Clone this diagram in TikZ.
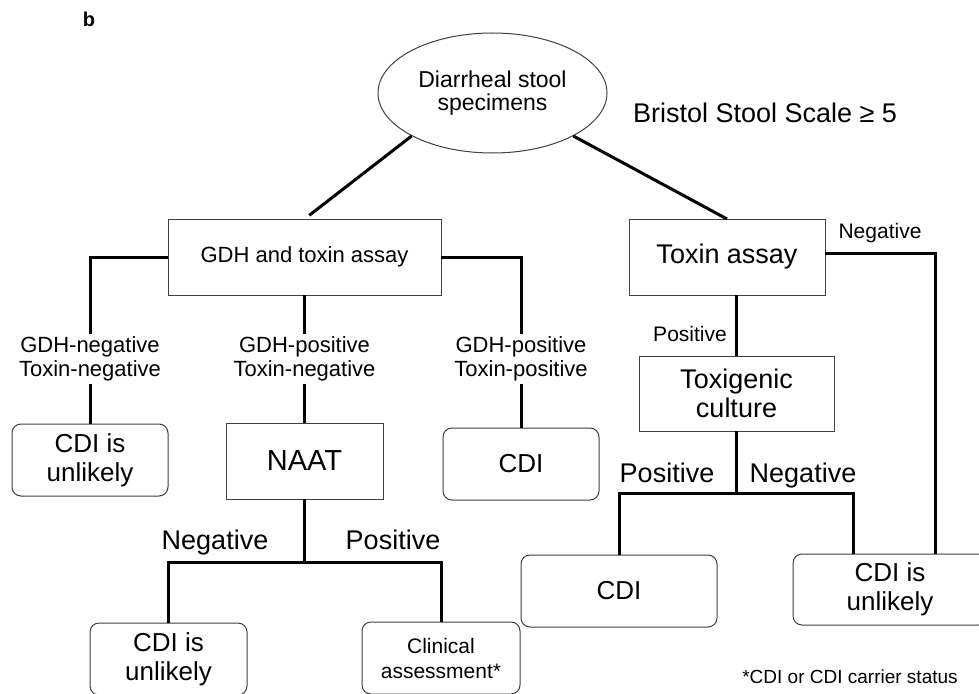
\documentclass[tikz,border=0pt]{standalone}
\usepackage{fontspec}
\setmainfont{Liberation Sans}
\usepackage{tikz}
\usetikzlibrary{calc,positioning,shapes.geometric}

\begin{document}
\begin{tikzpicture}[x=1pt,y=-1pt]
  % requires: \usetikzlibrary{calc,positioning,shapes.geometric}
  \tikzset{
    testBox/.style={draw=black!75, line width=1pt, inner sep=2pt, outer sep=0pt, align=center},
    outcomeBox/.style={draw=black!75, line width=1pt, rounded corners=9pt, inner sep=2pt, outer sep=0pt, align=center, minimum height=72pt, font=\fontsize{26}{29}\selectfont},
    branchLabel/.style={inner xsep=0pt, inner ysep=3pt, align=center, font=\fontsize{22}{24}\selectfont},
    splitLabel/.style={inner sep=0pt, anchor=base, font=\fontsize{27}{29}\selectfont},
    flowLine/.style={line width=3pt}
  }

  % --- Page frame (image is cut at the bottom) ---
  \clip (0,0) rectangle (979,693);
  \fill[white] (0,0) rectangle (979,693);

  \node[inner sep=0pt, font=\fontsize{20}{21}\selectfont\bfseries] (panel-b) at (89,19) {b};

  % --- Start ---
  \node[ellipse, draw=black!75, line width=1pt, inner sep=0pt, minimum width=229pt, minimum height=120pt, align=center, font=\fontsize{23}{23}\selectfont] (stool) at (492.5,93) {Diarrheal stool\\specimens};
  \node[inner sep=0pt, font=\fontsize{27}{29}\selectfont] (bristol) at (765,113) {Bristol Stool Scale ≥ 5};

  % --- Two strategies ---
  \node[testBox, minimum width=273pt, minimum height=76pt, font=\fontsize{22}{24}\selectfont] (gdh-box) at (304.5,257) {GDH and toxin assay};
  \node[testBox, minimum width=196pt, minimum height=76pt, font=\fontsize{27}{29}\selectfont] (toxin-box) at (727,257) {Toxin assay};

  \draw[flowLine, shorten >=6pt] (stool.208) -- (gdh-box.north);
  \draw[flowLine] (stool.-28) -- (toxin-box.north);

  % --- GDH and toxin assay results ---
  \node[branchLabel] (lbl-gn) at (90,359) {GDH-negative\\Toxin-negative};
  \node[branchLabel] (lbl-gptn) at (304.5,359) {GDH-positive\\Toxin-negative};
  \node[branchLabel] (lbl-gptp) at (521,359) {GDH-positive\\Toxin-positive};

  \node[outcomeBox, minimum width=156pt] (out-1) at (90,460) {CDI is\\unlikely};
  \node[testBox, minimum width=157pt, minimum height=76pt, font=\fontsize{29}{31}\selectfont] (naat-box) at (304.5,461) {NAAT};
  \node[outcomeBox, minimum width=156pt] (out-2) at (521,464) {CDI};

  \draw[flowLine] (gdh-box.west) -| (lbl-gn.north);
  \draw[flowLine] (lbl-gn.south) -- (out-1.north);
  \draw[flowLine] (gdh-box.south) -- (lbl-gptn.north);
  \draw[flowLine] (lbl-gptn.south) -- (naat-box.north);
  \draw[flowLine] (gdh-box.east) -| (lbl-gptp.north);
  \draw[flowLine] (lbl-gptp.south) -- (out-2.north);

  % --- NAAT results ---
  \node[outcomeBox, minimum width=157pt] (out-3) at (168.5,659) {CDI is\\unlikely};
  \node[outcomeBox, minimum width=158pt, font=\fontsize{21}{25}\selectfont] (out-4) at (441,658) {Clinical\\assessment*};
  \coordinate (naat-split) at ($(naat-box.south)+(0,63)$);

  \draw[flowLine] (naat-box.south) -- (naat-split);
  \draw[flowLine] (naat-split) -| (out-3.north);
  \draw[flowLine] (naat-split) -| (out-4.north);
  \node[splitLabel] (naat-neg) at (215,549) {Negative};
  \node[splitLabel] (naat-pos) at (393,549) {Positive};

  % --- Toxin assay results ---
  \node[testBox, minimum width=195pt, minimum height=75pt, font=\fontsize{27}{29}\selectfont] (culture-box) at (736.5,393.5) {Toxigenic\\culture};
  \node[inner sep=0pt, anchor=base, font=\fontsize{21}{23}\selectfont] (tox-pos) at (690,341) {Positive};
  \node[inner sep=0pt, anchor=base, font=\fontsize{21}{23}\selectfont] (tox-neg) at (880,238) {Negative};

  \node[outcomeBox, minimum width=196pt] (out-5) at (619,591) {CDI};
  \node[outcomeBox, minimum width=194pt, minimum height=71pt] (out-6) at (890,589.5) {CDI is\\unlikely};

  \draw[flowLine] (culture-box.north) -- (culture-box.north |- toxin-box.south);
  \draw[flowLine] ($(toxin-box.east)+(0,-4)$) -| ($(out-6.north west)+(142,0)$);

  \coordinate (culture-split) at ($(culture-box.south)+(0,62)$);
  \draw[flowLine] (culture-box.south) -- (culture-split);
  \draw[flowLine] (culture-split) -| (out-5.north);
  \draw[flowLine] (culture-split) -| ($(out-6.north west)+(60,0)$);
  \node[splitLabel] (cult-pos) at (667,482) {Positive};
  \node[splitLabel] (cult-neg) at (803,482) {Negative};

  % --- Footnote ---
  \node[inner sep=0pt, font=\fontsize{19}{21}\selectfont] (footnote) at (850,677) {*CDI or CDI carrier status};

\end{tikzpicture}
\end{document}
